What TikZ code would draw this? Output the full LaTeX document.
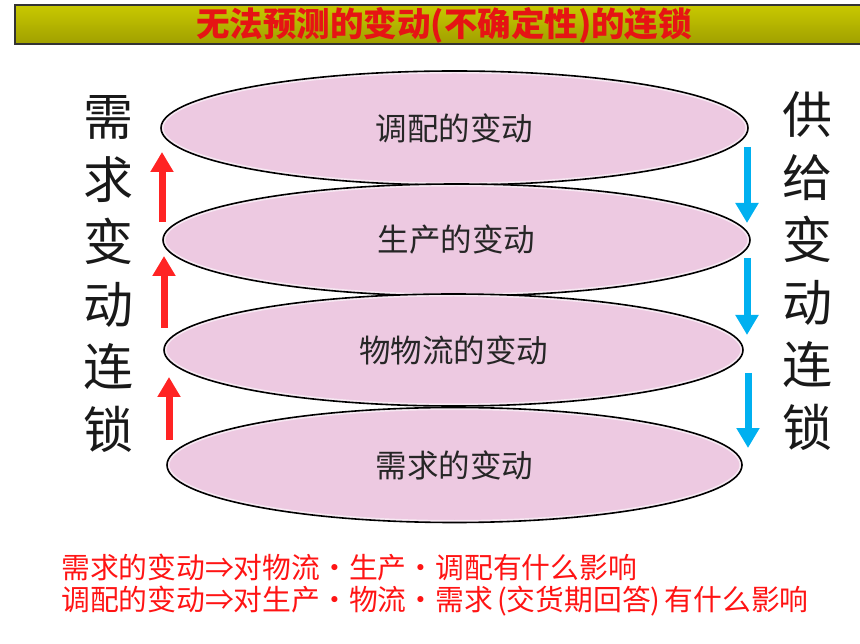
\documentclass[tikz,border=0pt]{standalone}
\usepackage{fontspec}
\setmainfont{Noto Sans CJK SC}
\usetikzlibrary{shapes.geometric,arrows.meta}
\definecolor{ellpink}{RGB}{237,201,225}
\definecolor{upred}{RGB}{255,35,35}
\definecolor{downblue}{RGB}{0,176,240}
\definecolor{txtred}{RGB}{255,20,20}
\definecolor{bartop}{RGB}{200,200,0}
\definecolor{barbot}{RGB}{160,160,0}
\definecolor{titlered}{RGB}{230,20,20}
\begin{document}
\begin{tikzpicture}[x=1pt,y=-1pt,
  layer/.style 2 args={ellipse, draw=black, line width=1.6pt, fill=ellpink,
    inner sep=0pt, minimum width=#1pt, minimum height=#2pt,
    font=\fontsize{31.5}{36}\selectfont, text=black!85,
    path picture={\draw[white,line width=5pt,opacity=.6]
      (path picture bounding box.center) ellipse [x radius=#1pt/2, y radius=#2pt/2];}},
  uparrow/.style={draw=upred, line width=7pt, -{Triangle[width=22pt,length=20pt]}},
  downarrow/.style={draw=downblue, line width=7pt, -{Triangle[width=22pt,length=20pt]}},
  sidetext/.style={align=center, inner sep=0pt, font=\fontsize{50}{62.5}\selectfont, text=black!90},
  notetext/.style={anchor=west, inner sep=0pt, text=txtred, font=\fontsize{28.8}{32}\selectfont},
  titlebar/.style={draw=black!80, line width=1.5pt, top color=bartop, middle color=yellow,
    bottom color=barbot, inner sep=0pt, minimum width=846pt, minimum height=39pt},
  titletext/.style={inner sep=0pt, text=titlered, font=\bfseries\fontsize{33.5}{36}\selectfont}
]
\useasboundingbox (0,0) rectangle (860,644);

% title
\node[titlebar] (bar) at (438,24.5) {};
\node[titletext] (title) at (444,25) {无法预测的变动(不确定性)的连锁};

% layers
\node[layer={587}{114}] (e1) at (454.5,128) {调配的变动};
\node[layer={587}{112}] (e2) at (456.5,240) {生产的变动};
\node[layer={579}{112}] (e3) at (453.5,350) {物物流的变动};
\node[layer={575}{115}] (e4) at (454.5,465) {需求的变动};

% red up arrows
\coordinate (r1s) at (162,222); \coordinate (r1e) at (162,152);
\coordinate (r2s) at (164,328); \coordinate (r2e) at (164,256);
\coordinate (r3s) at (169,440); \coordinate (r3e) at (169,377);
\draw[uparrow] (r1s) -- (r1e);
\draw[uparrow] (r2s) -- (r2e);
\draw[uparrow] (r3s) -- (r3e);

% blue down arrows
\coordinate (b1s) at (747,147); \coordinate (b1e) at (747,223);
\coordinate (b2s) at (747,258); \coordinate (b2e) at (747,335);
\coordinate (b3s) at (748,373); \coordinate (b3e) at (748,448);
\draw[downarrow] (b1s) -- (b1e);
\draw[downarrow] (b2s) -- (b2e);
\draw[downarrow] (b3s) -- (b3e);

% side texts
\node[sidetext] (demand) at (108,274) {需\\求\\变\\动\\连\\锁};
\node[sidetext] (supply) at (807,271) {供\\给\\变\\动\\连\\锁};

% notes
\node[notetext] (n1) at (61,568) {需求的变动⇒对物流・生产・调配有什么影响};
\node[notetext] (n2) at (61,601) {调配的变动⇒对生产・物流・需求\hspace{4pt}(交货期回答)\hspace{4pt}有什么影响};
\end{tikzpicture}
\end{document}
